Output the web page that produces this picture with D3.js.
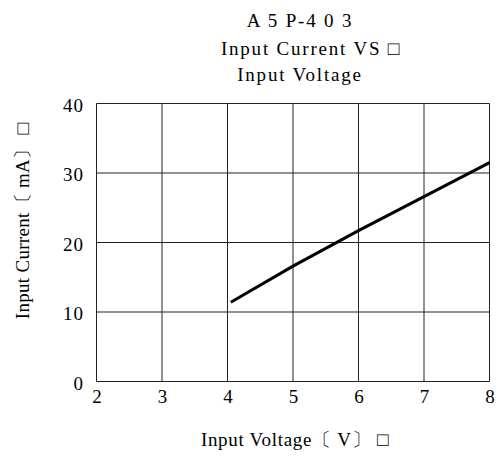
<!DOCTYPE html>
<html><head><meta charset="utf-8">
<script src="https://cdn.jsdelivr.net/npm/d3@7"></script>
<style>body{margin:0;background:#fff}text{font-family:"Liberation Serif","DejaVu Serif",serif;fill:#000}</style>
</head><body>
<script>
const titleLines = ["A 5 P-4 0 3", "Input Current VS \u25A1", "Input Voltage"];
const xLabel = "Input Voltage\u3014 V\u3015 \u25A1";
const yLabel = "Input Current\u3014 mA\u3015 \u25A1";
const xTicks = [2, 3, 4, 5, 6, 7, 8];
const yTicks = [0, 10, 20, 30, 40];
const voltage = [4.05, 5, 6, 7, 8];
const current = [11.4, 16.6, 21.7, 26.6, 31.5];

const W = 500, H = 457;
const svg = d3.select("body").append("svg").attr("width", W).attr("height", H);
const x = d3.scaleLinear().domain([2, 8]).range([96.5, 489.5]);
const y = d3.scaleLinear().domain([0, 40]).range([381.5, 103.5]);

const g = svg.append("g");
g.selectAll(".vg").data(xTicks).join("line")
  .attr("x1", d => x(d)).attr("x2", d => x(d)).attr("y1", y(0)).attr("y2", y(40))
  .attr("stroke", "#222").attr("stroke-width", 1);
g.selectAll(".hg").data(yTicks).join("line")
  .attr("y1", d => y(d)).attr("y2", d => y(d)).attr("x1", x(2)).attr("x2", x(8))
  .attr("stroke", "#222").attr("stroke-width", 1);

g.selectAll(".xt").data(xTicks).join("text")
  .attr("x", d => x(d) + 0.5).attr("y", 403).attr("text-anchor", "middle")
  .attr("font-size", 19).text(d => d);
g.selectAll(".yt").data(yTicks).join("text")
  .attr("x", 84).attr("y", d => y(d) + 8).attr("text-anchor", "end")
  .attr("font-size", 19).attr("letter-spacing", 1).text(d => d);

const line = d3.line().x((d, i) => x(voltage[i])).y(d => y(d));
svg.append("path").datum(current).attr("d", line)
  .attr("fill", "none").attr("stroke", "#000").attr("stroke-width", 3);

const tpos = [[300, 27], [311, 55], [300, 81]];
svg.selectAll(".title").data(titleLines).join("text")
  .attr("x", (d, i) => tpos[i][0]).attr("y", (d, i) => tpos[i][1])
  .attr("text-anchor", "middle").attr("font-size", 19).attr("letter-spacing", 1.8).text(d => d);

svg.append("text").attr("x", 295).attr("y", 446).attr("text-anchor", "middle")
  .attr("font-size", 19).attr("letter-spacing", 0.7).text(xLabel);
svg.append("text").attr("transform", "translate(29,221) rotate(-90)")
  .attr("text-anchor", "middle").attr("font-size", 19).attr("letter-spacing", 0.3).text(yLabel);
</script>
</body></html>
